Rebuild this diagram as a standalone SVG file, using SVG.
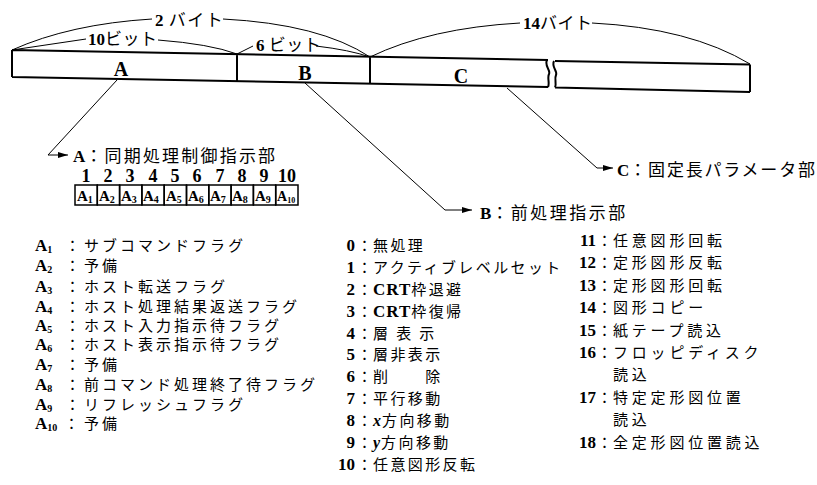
<svg xmlns="http://www.w3.org/2000/svg" width="817" height="485" viewBox="0 0 817 485">
<style>
.s{fill:none;stroke:#000;stroke-width:2}
.t{fill:none;stroke:#000;stroke-width:1}
.b{font-family:"Liberation Serif","Noto Sans CJK JP",serif;font-weight:bold}
.j{font-family:"Noto Sans CJK JP",sans-serif;font-weight:normal}
.lab{font-size:17px}
.lst{font-size:15px}
.jl{letter-spacing:3px}
.jm{letter-spacing:2.4px}
.jr{letter-spacing:3.8px}
.sub{font-size:10px}
</style>
<defs>
<marker id="ar" viewBox="0 0 10 6" refX="10" refY="3" markerWidth="10" markerHeight="6" markerUnits="userSpaceOnUse" orient="auto">
<path d="M0,0 L10,3 L0,6 z" fill="#000"/>
</marker>
</defs>
<rect width="817" height="485" fill="#fff"/>
<g id="bar">
<path class="s" d="M12,50 L548,60 M12,77 L548,87 M12,50 V77 M237,54.2 V81.2 M370,56.7 V83.7 M547,60 C544,66 551,70 549,74 C547,78 550,83 548,87"/>
<path class="s" d="M555,61 L750,64.5 M555,87.5 L750,92 M750,64.5 V92 M554,61 C551,67 558,71 556,75 C554,79 557,84 555,87.5"/>
<text class="b" font-size="20" x="121" y="76" text-anchor="middle">A</text>
<text class="b" font-size="20" x="305" y="80" text-anchor="middle">B</text>
<text class="b" font-size="20" x="461" y="83" text-anchor="middle">C</text>
</g>
<g id="dims">
<path class="t" d="M12,50 Q70,24 152,19 M223,19 Q320,24 370,57"/>
<text x="155" y="26" font-size="17"><tspan class="b">2</tspan><tspan class="j" letter-spacing="1.5"> バイト</tspan></text>
<path class="t" d="M12,50 L86,39 M158,40 Q210,44 237,54"/>
<text x="88" y="45" font-size="17"><tspan class="b">10</tspan><tspan class="j" letter-spacing="0.5">ビット</tspan></text>
<path class="t" d="M237,54 L253,46 M316,46 Q350,50 370,57"/>
<text x="256" y="51" font-size="17"><tspan class="b">6</tspan><tspan class="j" letter-spacing="0.5"> ビット</tspan></text>
<path class="t" d="M370,57 Q430,28 520,23 M592,23 Q690,28 750,64"/>
<text x="523" y="29" font-size="17"><tspan class="b">14</tspan><tspan class="j" letter-spacing="0.5">バイト</tspan></text>
</g>
<g id="connectors">
<path class="t" d="M117,80 L48,155 L68,155" marker-end="url(#ar)"/>
<path class="t" d="M305,83 L445,210 L472,210" marker-end="url(#ar)"/>
<path class="t" d="M507,88 L597,168 L613,168" marker-end="url(#ar)"/>
</g>
<g id="nodeA">
<text x="73" y="162" class="lab"><tspan class="b">A</tspan><tspan class="j" letter-spacing="2.2">：同期処理制御指示部</tspan></text>
<g class="b" font-size="18" text-anchor="middle">
<text x="86" y="182">1</text><text x="108" y="182">2</text><text x="130" y="182">3</text><text x="153" y="182">4</text><text x="175" y="182">5</text><text x="197" y="182">6</text><text x="220" y="182">7</text><text x="242" y="182">8</text><text x="264" y="182">9</text><text x="287" y="182">10</text>
</g>
<g fill="none" stroke="#000" stroke-width="1.5">
<rect x="75" y="185" width="22.3" height="20"/><rect x="97.3" y="185" width="22.3" height="20"/><rect x="119.6" y="185" width="22.3" height="20"/><rect x="141.9" y="185" width="22.3" height="20"/><rect x="164.2" y="185" width="22.3" height="20"/><rect x="186.5" y="185" width="22.3" height="20"/><rect x="208.8" y="185" width="22.3" height="20"/><rect x="231.1" y="185" width="22.3" height="20"/><rect x="253.4" y="185" width="22.3" height="20"/><rect x="275.7" y="185" width="22.3" height="20"/>
</g>
<g class="b" font-size="15">
<text x="77" y="201">A<tspan class="sub" dy="2">1</tspan></text>
<text x="99" y="201">A<tspan class="sub" dy="2">2</tspan></text>
<text x="121" y="201">A<tspan class="sub" dy="2">3</tspan></text>
<text x="143" y="201">A<tspan class="sub" dy="2">4</tspan></text>
<text x="166" y="201">A<tspan class="sub" dy="2">5</tspan></text>
<text x="188" y="201">A<tspan class="sub" dy="2">6</tspan></text>
<text x="210" y="201">A<tspan class="sub" dy="2">7</tspan></text>
<text x="232" y="201">A<tspan class="sub" dy="2">8</tspan></text>
<text x="255" y="201">A<tspan class="sub" dy="2">9</tspan></text>
<text x="277" y="201" font-size="14">A<tspan font-size="8" dy="2">10</tspan></text>
</g>
</g>
<g id="nodeB">
<text x="480" y="219" class="lab"><tspan class="b">B</tspan><tspan class="j" letter-spacing="2.5">：前処理指示部</tspan></text>
</g>
<g id="nodeC">
<text x="617" y="176" class="lab"><tspan class="b">C</tspan><tspan class="j" letter-spacing="1.8">：固定長パラメータ部</tspan></text>
</g>
<g id="listA" class="lst">
<text x="35" y="251"><tspan class="b" font-size="17">A</tspan><tspan class="b sub" dy="2">1</tspan><tspan class="j" x="65" dy="-2">：</tspan><tspan class="j jl" x="84">サブコマンドフラグ</tspan></text>
<text x="35" y="271"><tspan class="b" font-size="17">A</tspan><tspan class="b sub" dy="2">2</tspan><tspan class="j" x="65" dy="-2">：</tspan><tspan class="j jl" x="84">予備</tspan></text>
<text x="35" y="292"><tspan class="b" font-size="17">A</tspan><tspan class="b sub" dy="2">3</tspan><tspan class="j" x="65" dy="-2">：</tspan><tspan class="j jl" x="84">ホスト転送フラグ</tspan></text>
<text x="35" y="312"><tspan class="b" font-size="17">A</tspan><tspan class="b sub" dy="2">4</tspan><tspan class="j" x="65" dy="-2">：</tspan><tspan class="j jl" x="84">ホスト処理結果返送フラグ</tspan></text>
<text x="35" y="331"><tspan class="b" font-size="17">A</tspan><tspan class="b sub" dy="2">5</tspan><tspan class="j" x="65" dy="-2">：</tspan><tspan class="j jl" x="84">ホスト入力指示待フラグ</tspan></text>
<text x="35" y="350"><tspan class="b" font-size="17">A</tspan><tspan class="b sub" dy="2">6</tspan><tspan class="j" x="65" dy="-2">：</tspan><tspan class="j jl" x="84">ホスト表示指示待フラグ</tspan></text>
<text x="35" y="370"><tspan class="b" font-size="17">A</tspan><tspan class="b sub" dy="2">7</tspan><tspan class="j" x="65" dy="-2">：</tspan><tspan class="j jl" x="84">予備</tspan></text>
<text x="35" y="390"><tspan class="b" font-size="17">A</tspan><tspan class="b sub" dy="2">8</tspan><tspan class="j" x="65" dy="-2">：</tspan><tspan class="j jl" x="84">前コマンド処理終了待フラグ</tspan></text>
<text x="35" y="410"><tspan class="b" font-size="17">A</tspan><tspan class="b sub" dy="2">9</tspan><tspan class="j" x="65" dy="-2">：</tspan><tspan class="j jl" x="84">リフレッシュフラグ</tspan></text>
<text x="35" y="429"><tspan class="b" font-size="17">A</tspan><tspan class="b sub" dy="2">10</tspan><tspan class="j" x="64" dy="-2">：</tspan><tspan class="j jl" x="84">予備</tspan></text>
</g>
<g id="listB" class="lst">
<g class="b" font-size="17" text-anchor="end">
<text x="355" y="251">0</text><text x="355" y="273">1</text><text x="355" y="295">2</text><text x="355" y="317">3</text><text x="355" y="339">4</text><text x="355" y="360">5</text><text x="355" y="382">6</text><text x="355" y="404">7</text><text x="355" y="426">8</text><text x="355" y="448">9</text><text x="355" y="470">10</text>
</g>
<g class="j">
<text x="357" y="251">：</text><text x="357" y="273">：</text><text x="357" y="295">：</text><text x="357" y="317">：</text><text x="357" y="339">：</text><text x="357" y="360">：</text><text x="357" y="382">：</text><text x="357" y="404">：</text><text x="357" y="426">：</text><text x="357" y="448">：</text><text x="357" y="470">：</text>
</g>
<g class="j jm">
<text x="373" y="251">無処理</text>
<text x="373" y="273">アクティブレベルセット</text>
<text x="373" y="295"><tspan class="b" font-size="17" letter-spacing="1">CRT</tspan>枠退避</text>
<text x="373" y="317"><tspan class="b" font-size="17" letter-spacing="1">CRT</tspan>枠復帰</text>
<text x="373" y="339">層 表 示</text>
<text x="373" y="360">層非表示</text>
<text x="373" y="382">削　　除</text>
<text x="373" y="404">平行移動</text>
<text x="373" y="426"><tspan class="b" font-style="italic" font-size="16" letter-spacing="1">x</tspan>方向移動</text>
<text x="373" y="448"><tspan class="b" font-style="italic" font-size="16" letter-spacing="1">y</tspan>方向移動</text>
<text x="373" y="470">任意図形反転</text>
</g>
</g>
<g id="listC" class="lst">
<g class="b" font-size="17" text-anchor="end">
<text x="596" y="246">11</text><text x="596" y="268">12</text><text x="596" y="291">13</text><text x="596" y="313">14</text><text x="596" y="336">15</text><text x="596" y="358">16</text><text x="596" y="403">17</text><text x="596" y="448">18</text>
</g>
<g class="j">
<text x="597" y="246">：</text><text x="597" y="268">：</text><text x="597" y="291">：</text><text x="597" y="313">：</text><text x="597" y="336">：</text><text x="597" y="358">：</text><text x="597" y="403">：</text><text x="597" y="448">：</text>
</g>
<g class="j jr">
<text x="613" y="246">任意図形回転</text>
<text x="613" y="268">定形図形反転</text>
<text x="613" y="291">定形図形回転</text>
<text x="613" y="313">図形コピー</text>
<text x="613" y="336">紙テープ読込</text>
<text x="613" y="358">フロッピディスク</text>
<text x="613" y="380">読込</text>
<text x="613" y="403">特定定形図位置</text>
<text x="613" y="425">読込</text>
<text x="613" y="448">全定形図位置読込</text>
</g>
</g>
</svg>
